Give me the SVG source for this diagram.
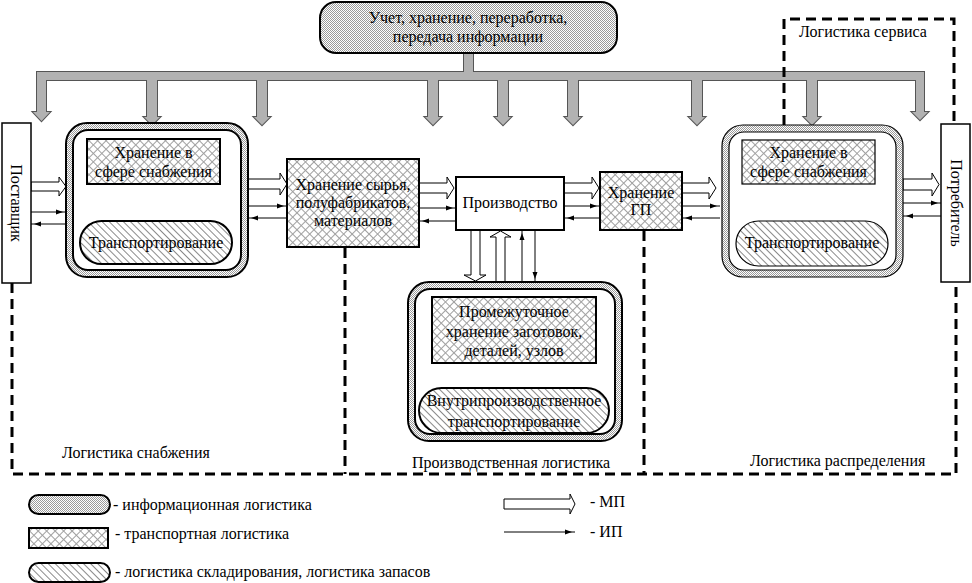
<svg xmlns="http://www.w3.org/2000/svg" xmlns:xlink="http://www.w3.org/1999/xlink" width="972" height="583" viewBox="0 0 972 583">
<style>
text{font-family:"Liberation Serif","Times New Roman",serif;font-size:16px;fill:#000}
.c{text-anchor:middle}
.info{fill:url(#pInfo);stroke:#000;stroke-width:2}
.tr{fill:url(#pTr);stroke:#000;stroke-width:2}
.st{fill:url(#pSt);stroke:#000;stroke-width:2}
.wh{fill:#fff;stroke:#000;stroke-width:2}
.ext{fill:#fff;stroke:#000;stroke-width:1.5}
.mp{fill:#fff;stroke:#000;stroke-width:1}
.ip{fill:none;stroke:#000;stroke-width:1;marker-end:url(#ah)}
.dash{fill:none;stroke:#000;stroke-width:3;stroke-dasharray:10 6}
</style>
<defs>
<pattern id="pInfo" width="2" height="2" patternUnits="userSpaceOnUse">
<rect width="2" height="2" fill="#fff"/>
<rect width="1" height="1" fill="#9a9a9a"/>
<rect x="1" y="1" width="1" height="1" fill="#9a9a9a"/>
</pattern>
<pattern id="pTr" width="6" height="6" patternUnits="userSpaceOnUse" patternTransform="rotate(45)">
<rect width="6" height="6" fill="#fff"/>
<path d="M0 0.5H6M0.5 0V6" stroke="#a0a0a0" stroke-width="1"/>
</pattern>
<pattern id="pSt" width="5" height="5" patternUnits="userSpaceOnUse" patternTransform="rotate(-45)">
<rect width="5" height="5" fill="#fff"/>
<path d="M0.5 0V5" stroke="#8a8a8a" stroke-width="1"/>
</pattern>
<marker id="ah" viewBox="0 0 10 6" markerWidth="10" markerHeight="6" refX="10" refY="3" markerUnits="userSpaceOnUse" orient="auto">
<path d="M0 0.5L7 3L0 5.5Z" fill="#000"/>
</marker>
<g id="busShape">
<rect x="464" y="50" width="9" height="24"/>
<rect x="37" y="72" width="887" height="8"/>
<path d="M37 72H46V112H50L41.5 121L33 112H37Z"/>
<path d="M916 72H924V112H928L920 120L912 112H916Z"/>
<path d="M147 78H157V117H160L152 125L144 117H147Z"/>
<path d="M257 78H267V117H270L262 125L254 117H257Z"/>
<path d="M428 78H438V117H441L433 125L425 117H428Z"/>
<path d="M498 78H508V117H511L503 125L495 117H498Z"/>
<path d="M568 78H578V117H581L573 125L565 117H568Z"/>
<path d="M692 78H702V117H705L697 125L689 117H692Z"/>
<path d="M807 78H817V117H820L812 125L804 117H807Z"/>
</g>
</defs>
<rect width="972" height="583" fill="#fff"/>

<g id="connectors">
<use xlink:href="#busShape" fill="none" stroke="#555" stroke-width="2"/>
<use xlink:href="#busShape" fill="#b2b2b2" stroke="none"/>

<path class="dash" d="M12 283V474H956V282"/>
<path class="dash" d="M345 248V474"/>
<path class="dash" d="M644 231V474"/>
<path class="dash" d="M784 125V19H954V124"/>

<!-- hollow material flow arrows -->
<path class="mp" d="M31 182H59V177L66 186.5L59 196V191H31Z"/>
<path class="mp" d="M248 179H280V173L287 184L280 195V189H248Z"/>
<path class="mp" d="M419 183H447V177L454 188L447 199V193H419Z"/>
<path class="mp" d="M564 183H592V177L599 188L592 199V193H564Z"/>
<path class="mp" d="M682 183H709V177L716 188L709 199V193H682Z"/>
<path class="mp" d="M903 179H932V173L939 184.5L932 196V190H903Z"/>

<path class="mp" d="M115 184V213H111L119.5 219L128 213H124V184Z"/>
<path class="mp" d="M137 221V195H133L140.5 187L148 195H144V221Z"/>
<path class="mp" d="M775 184V213H772L779 219L787 213H783V184Z"/>
<path class="mp" d="M798 221V195H794L802 188L810 195H806V221Z"/>
<path class="mp" d="M471 230V275H464L475.5 281L486 275H480V230Z"/>
<path class="mp" d="M496 282V237H490L500.5 231L511 237H505V282Z"/>
<path class="mp" d="M468 363V383H464L472 389L480 383H476V363Z"/>
<path class="mp" d="M490 388V372H486L493.5 365L501 372H497V388Z"/>

<!-- thin information flow arrows -->
<path class="ip" d="M31 212H66"/>
<path class="ip" d="M66 224H31"/>
<path class="ip" d="M248 206H287"/>
<path class="ip" d="M287 218H248"/>
<path class="ip" d="M419 208H456"/>
<path class="ip" d="M456 221H419"/>
<path class="ip" d="M564 206H600"/>
<path class="ip" d="M600 218H564"/>
<path class="ip" d="M682 206H720"/>
<path class="ip" d="M720 218H682"/>
<path class="ip" d="M903 203H941"/>
<path class="ip" d="M941 216H903"/>
<path class="ip" d="M180 221V184"/>
<path class="ip" d="M192 184V221"/>
<path class="ip" d="M840 221V184"/>
<path class="ip" d="M854 184V221"/>
<path class="ip" d="M522 282V230"/>
<path class="ip" d="M535 230V282"/>
<path class="ip" d="M533 388V363"/>
<path class="ip" d="M547 363V388"/>
</g>

<g id="info-top">
<rect class="info" x="320" y="2" width="297" height="51" rx="16"/>
<text class="c" x="468" y="23">Учет, хранение, переработка,</text>
<text class="c" x="468" y="42">передача информации</text>
</g>

<g id="supplier">
<rect class="ext" x="2" y="123" width="29" height="160"/>
<text class="c" transform="translate(11 203) rotate(90)">Поставщик</text>
</g>

<g id="consumer">
<rect class="ext" x="941" y="124" width="29" height="158"/>
<text class="c" transform="translate(951 203) rotate(90)">Потребитель</text>
</g>

<g id="supply-frame">
<rect class="info" x="66" y="123" width="182" height="154" rx="21"/>
<rect class="wh" x="73" y="130" width="168" height="140" rx="15"/>
</g>
<g id="supply-storage">
<rect class="tr" x="87" y="139" width="133" height="45"/>
<text class="c" x="153.5" y="158">Хранение в</text>
<text class="c" x="153.5" y="177">сфере снабжения</text>
</g>
<g id="supply-transport">
<rect class="st" x="80" y="221" width="152" height="43" rx="21.5"/>
<text class="c" x="156" y="248">Транспортирование</text>
</g>

<g id="raw-storage">
<rect class="tr" x="287" y="159" width="132" height="88"/>
<text class="c" x="353" y="190">Хранение сырья,</text>
<text class="c" x="353" y="208">полуфабрикатов,</text>
<text class="c" x="353" y="226">материалов</text>
</g>

<g id="production">
<rect class="wh" x="456" y="177" width="108" height="53"/>
<text class="c" x="510" y="208">Производство</text>
</g>

<g id="fg-storage">
<rect class="tr" x="600" y="172" width="82" height="58"/>
<text class="c" x="641" y="198">Хранение</text>
<text class="c" x="641" y="215">ГП</text>
</g>

<g id="distribution-frame">
<rect x="722" y="125" width="181" height="152" rx="21" fill="url(#pInfo)" stroke="#000" stroke-width="1.2"/>
<rect x="729" y="132" width="167" height="138" rx="15" fill="#fff" stroke="#000" stroke-width="1.2"/>
</g>
<g id="distribution-storage">
<rect x="742" y="140" width="133" height="44" fill="url(#pTr)" stroke="#000" stroke-width="1.2"/>
<text class="c" x="808.5" y="158">Хранение в</text>
<text class="c" x="808.5" y="177">сфере снабжения</text>
</g>
<g id="distribution-transport">
<rect x="736" y="221" width="152" height="45" rx="22.5" fill="url(#pSt)" stroke="#000" stroke-width="1.2"/>
<text class="c" x="812" y="248">Транспортирование</text>
</g>

<g id="production-frame">
<rect class="info" x="408" y="282" width="214" height="159" rx="21"/>
<rect class="wh" x="415" y="289" width="200" height="145" rx="15"/>
</g>
<g id="intermediate-storage">
<rect class="tr" x="432" y="297" width="164" height="66"/>
<text class="c" x="514" y="317">Промежуточное</text>
<text class="c" x="514" y="337">хранение заготовок,</text>
<text class="c" x="514" y="356">деталей, узлов</text>
</g>
<g id="inner-transport">
<rect class="st" x="419" y="388" width="190" height="45" rx="22.5"/>
<text class="c" x="514" y="406">Внутрипроизводственное</text>
<text class="c" x="514" y="427">транспортирование</text>
</g>

<g id="labels">
<text class="c" x="863" y="37">Логистика сервиса</text>
<text x="62" y="458">Логистика снабжения</text>
<text x="412" y="468">Производственная логистика</text>
<text x="750" y="466">Логистика распределения</text>
</g>

<g id="legend">
<rect class="info" x="29" y="495" width="81" height="19" rx="9.5"/>
<text x="113" y="510">- информационная логистика</text>
<rect class="tr" x="29" y="528" width="79" height="20"/>
<text x="115" y="539">- транспортная логистика</text>
<rect class="st" x="29" y="563" width="81" height="19" rx="9.5"/>
<text x="115" y="577">- логистика складирования, логистика запасов</text>
<path class="mp" d="M504 499H570V494L575 504L570 514V509H504Z"/>
<text x="590" y="507">- МП</text>
<path class="ip" d="M504 532H575"/>
<text x="590" y="537">- ИП</text>
</g>
</svg>
